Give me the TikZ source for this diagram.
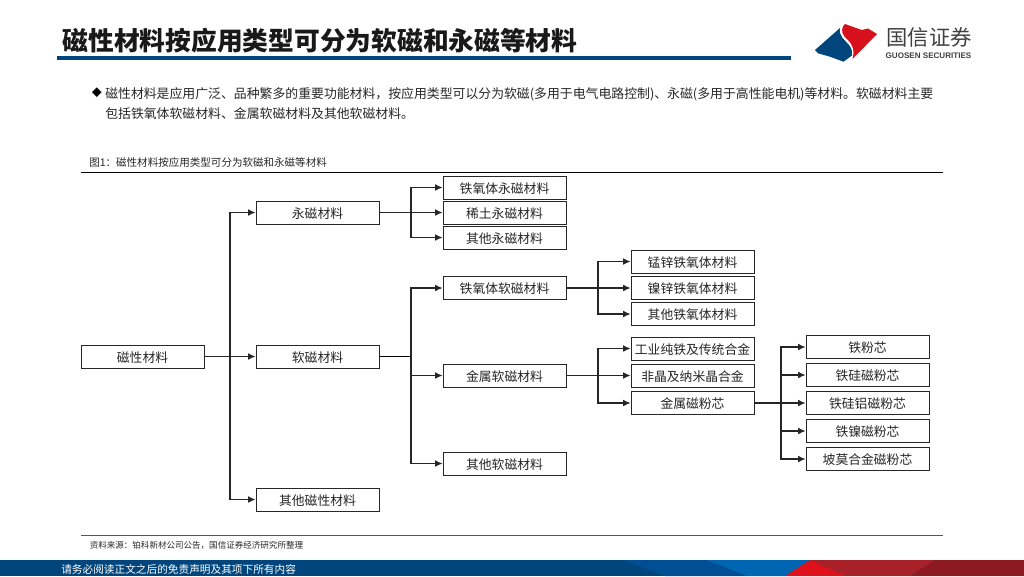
\documentclass[tikz,border=0pt]{standalone}
\usepackage{fontspec}
\setmainfont{Noto Sans CJK SC}
\newfontfamily\latinsans{Liberation Sans}
\usetikzlibrary{arrows.meta}
\definecolor{gsblue}{HTML}{00467C}
\definecolor{gsred}{HTML}{D7111B}
\definecolor{foota}{HTML}{004F94}
\definecolor{footb}{HTML}{0066B3}
\definecolor{footc}{HTML}{E0111B}
\definecolor{footd}{HTML}{A82028}
\definecolor{foote}{HTML}{8C1A20}
\tikzset{
  x=0.75pt,y=-0.75pt,
  boxnode/.style={draw=black!85,line width=0.7pt,fill=white,minimum width=92.25pt,minimum height=17.25pt,inner sep=0pt,text height=10pt,text depth=1.3pt,font=\fontsize{9.6}{11}\selectfont,text=black!85},
  conn/.style={draw=black!85,line width=0.8pt,line join=miter,-{Latex[length=5.5pt,width=5pt]}},
  plain/.style={anchor=west,inner sep=0pt,text=black!85}
}
\begin{document}
\begin{tikzpicture}
\useasboundingbox (0,0) rectangle (1024,576);
% header
\node[plain,font=\bfseries\fontsize{19.3}{24}\selectfont,text=black!90] (title) at (62.5,41) {磁性材料按应用类型可分为软磁和永磁等材料};
\fill[gsblue] (57,56) rectangle (791,59.5);
% logo
\fill[gsblue] (815,50) -- (840,28) .. controls (838,36) and (846,41) .. (849,45) .. controls (852,49) and (852.5,52) .. (852,55.5) -- (843.5,61.7) -- (830,56.7) -- (818,53.3) -- cycle;
\fill[gsred] (845,24) -- (861.7,30) -- (868,28.5) -- (877,34) -- (852.5,59) .. controls (855,50) and (852,44) .. (848,40) .. controls (842,35) and (841,31) .. (843,26.5) -- cycle;
\node[inner sep=0pt,text=black!75,font=\fontsize{16}{18}\selectfont] (brand) at (929,37) {国信证券};
\node[inner sep=0pt,text=black!75,font=\latinsans\bfseries\fontsize{6.05}{8}\selectfont] (brandlat) at (928.5,55.5) {GUOSEN SECURITIES};
% intro
\node[plain,font=\fontsize{7.5}{9}\selectfont,text=black] (dia) at (91.5,93) {◆};
\node[plain,font=\fontsize{9.65}{12}\selectfont,anchor=north west,align=left] (intro) at (105,87) {磁性材料是应用广泛、品种繁多的重要功能材料，按应用类型可以分为软磁(多用于电气电路控制)、永磁(多用于高性能电机)等材料。软磁材料主要\\[3pt]包括铁氧体软磁材料、金属软磁材料及其他软磁材料。};
% caption
\node[plain,font=\fontsize{7.9}{9}\selectfont] (cap) at (89,162.5) {图1：磁性材料按应用类型可分为软磁和永磁等材料};
\draw[black,line width=0.8pt] (81,172.5) -- (943,172.5);
% boxes
\node[boxnode] (root) at (142.5,356.5) {磁性材料};
\node[boxnode] (yong) at (317.5,212.5) {永磁材料};
\node[boxnode] (ruan) at (317.5,356.5) {软磁材料};
\node[boxnode] (qita) at (317.5,499.5) {其他磁性材料};
\node[boxnode] (y1) at (504.5,187.5) {铁氧体永磁材料};
\node[boxnode] (y2) at (504.5,212.5) {稀土永磁材料};
\node[boxnode] (y3) at (504.5,237.5) {其他永磁材料};
\node[boxnode] (r1) at (504.5,288) {铁氧体软磁材料};
\node[boxnode] (r2) at (504.5,375.5) {金属软磁材料};
\node[boxnode] (r3) at (504.5,463.5) {其他软磁材料};
\node[boxnode] (f1) at (692.5,261.5) {锰锌铁氧体材料};
\node[boxnode] (f2) at (692.5,288) {镍锌铁氧体材料};
\node[boxnode] (f3) at (692.5,314) {其他铁氧体材料};
\node[boxnode] (m1) at (692.5,348.5) {工业纯铁及传统合金};
\node[boxnode] (m2) at (692.5,375.5) {非晶及纳米晶合金};
\node[boxnode] (m3) at (692.5,403) {金属磁粉芯};
\node[boxnode] (p1) at (867.5,347) {铁粉芯};
\node[boxnode] (p2) at (867.5,375) {铁硅磁粉芯};
\node[boxnode] (p3) at (867.5,403) {铁硅铝磁粉芯};
\node[boxnode] (p4) at (867.5,431) {铁镍磁粉芯};
\node[boxnode] (p5) at (867.5,459) {坡莫合金磁粉芯};
% junctions
\coordinate (j0) at (230,356.5);
\coordinate (j1) at (411,212.5);
\coordinate (j2) at (411,356.5);
\coordinate (j3) at (598,288);
\coordinate (j4) at (598,375.5);
\coordinate (j5) at (781,403);
% connectors
\draw[conn] (root.east) -- (ruan.west);
\draw[conn] (j0) |- (yong.west);
\draw[conn] (j0) |- (qita.west);
\draw[conn] (yong.east) -- (y2.west);
\draw[conn] (j1) |- (y1.west);
\draw[conn] (j1) |- (y3.west);
\draw[draw=black,line width=1.1pt] (ruan.east) -- (j2);
\draw[conn] (j2) |- (r1.west);
\draw[conn] (j2) |- (r2.west);
\draw[conn] (j2) |- (r3.west);
\draw[conn] (r1.east) -- (f2.west);
\draw[conn] (j3) |- (f1.west);
\draw[conn] (j3) |- (f3.west);
\draw[conn] (r2.east) -- (m2.west);
\draw[conn] (j4) |- (m1.west);
\draw[conn] (j4) |- (m3.west);
\draw[conn] (m3.east) -- (p3.west);
\draw[conn] (j5) |- (p1.west);
\draw[conn] (j5) |- (p2.west);
\draw[conn] (j5) |- (p4.west);
\draw[conn] (j5) |- (p5.west);
% source
\draw[black!65,line width=0.8pt] (81,535.5) -- (943,535.5);
\node[plain,font=\fontsize{6.4}{8}\selectfont] (src) at (89.5,545) {资料来源：铂科新材公司公告，国信证券经济研究所整理};
% footer
\fill[gsblue] (0,560) rectangle (1024,576);
\fill[foota] (623,560) -- (707,560) -- (747,576) -- (665,576) -- cycle;
\fill[footb] (707,560) -- (810,560) -- (785,576) -- (747,576) -- cycle;
\fill[footc] (810,560) -- (847,576) -- (785,576) -- cycle;
\fill[footd] (810,560) -- (935,560) -- (910,576) -- (847,576) -- cycle;
\fill[foote] (935,560) -- (1024,560) -- (1024,576) -- (910,576) -- cycle;
\node[plain,text=white,font=\fontsize{8}{10}\selectfont] (foot) at (61,569) {请务必阅读正文之后的免责声明及其项下所有内容};
\end{tikzpicture}
\end{document}
